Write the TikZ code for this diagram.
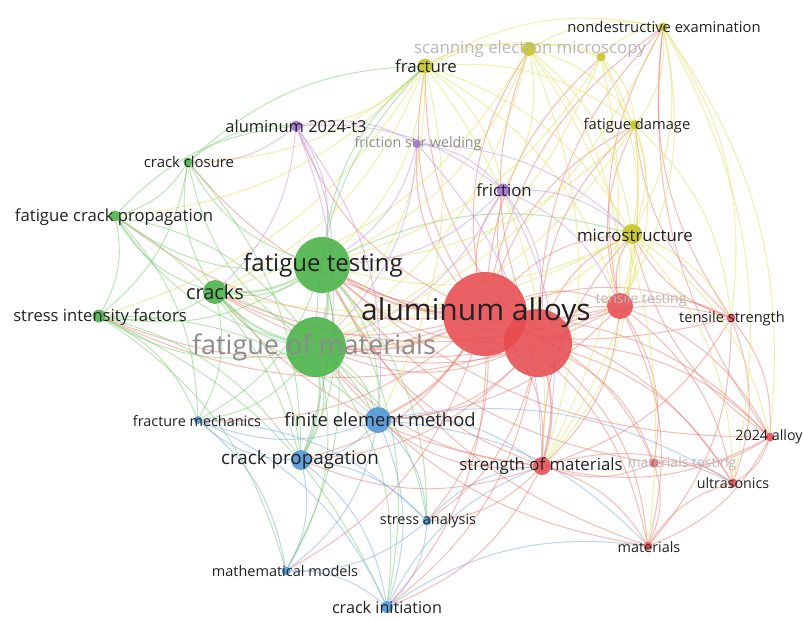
\documentclass[tikz,border=0pt]{standalone}
\usepackage{fontspec}
\setmainfont{Open Sans}
\pgfdeclarelayer{bg}
\pgfsetlayers{bg,main}
\definecolor{cred}{RGB}{230,76,80}
\definecolor{cgreen}{RGB}{72,178,70}
\definecolor{cblue}{RGB}{76,148,215}
\definecolor{cyel}{RGB}{196,196,30}
\definecolor{cpur}{RGB}{158,108,210}
\definecolor{ltxt}{RGB}{34,34,34}
\definecolor{ered}{RGB}{240,120,110}
\definecolor{egreen}{RGB}{120,205,110}
\definecolor{eblue}{RGB}{120,170,225}
\definecolor{eyel}{RGB}{225,225,90}
\definecolor{epur}{RGB}{190,150,230}
\begin{document}
\begin{tikzpicture}[x=1pt,y=-1pt,
  kw/.style={circle,inner sep=0pt,minimum size=#1,opacity=.88},
  lab/.style={font=\fontsize{#1}{#1}\selectfont,text=ltxt,inner sep=0pt},
  flab/.style={font=\fontsize{#1}{#1}\selectfont,text=black!45,inner sep=0pt},
  elab/.style={font=\fontsize{#1}{#1}\selectfont,text=black!28,inner sep=0pt},
  edge/.style={line width=1pt,opacity=.5,draw=#1},
  bigedge/.style={line width=2.2pt,opacity=.45,draw=#1}]
\useasboundingbox (0,0) rectangle (803,621);
% ---------- nodes ----------
\node[kw=84pt,fill=cred] (aa) at (485,314) {};
\node[kw=68pt,fill=cred] (mp) at (538,343) {};
\node[kw=26pt,fill=cred] (tt) at (620,306) {};
\node[kw=9pt,fill=cred] (ts) at (731,318) {};
\node[kw=9pt,fill=cred] (al24) at (770,437) {};
\node[kw=9pt,fill=cred] (mt) at (654,463) {};
\node[kw=9pt,fill=cred] (us) at (733,483) {};
\node[kw=9pt,fill=cred] (mat) at (648,546) {};
\node[kw=18pt,fill=cred] (som) at (542,466) {};
\node[kw=13pt,fill=cpur] (fr) at (503,190) {};
\node[kw=8pt,fill=cpur] (fsw) at (417,144) {};
\node[kw=11pt,fill=cpur] (a24t3) at (296,126) {};
\node[kw=15pt,fill=cyel] (frac) at (425,66) {};
\node[kw=14pt,fill=cyel] (sem) at (529,49) {};
\node[kw=9pt,fill=cyel] (y2) at (601,57) {};
\node[kw=9pt,fill=cyel] (nde) at (663,27) {};
\node[kw=10pt,fill=cyel] (fd) at (635,125) {};
\node[kw=20pt,fill=cyel] (ms) at (632,234) {};
\node[kw=9pt,fill=cgreen] (cc) at (188,162) {};
\node[kw=11pt,fill=cgreen] (fcp) at (115,216) {};
\node[kw=13pt,fill=cgreen] (sif) at (99,316) {};
\node[kw=24pt,fill=cgreen] (cr) at (215,292) {};
\node[kw=56pt,fill=cgreen] (ft) at (322,265) {};
\node[kw=60pt,fill=cgreen] (fom) at (316,347) {};
\node[kw=8pt,fill=cblue] (fm) at (198,420) {};
\node[kw=26pt,fill=cblue] (fem) at (378,420) {};
\node[kw=20pt,fill=cblue] (cp) at (301,460) {};
\node[kw=9pt,fill=cblue] (sa) at (427,521) {};
\node[kw=9pt,fill=cblue] (mm) at (286,571) {};
\node[kw=12pt,fill=cblue] (ci) at (387,607) {};
% ---------- edges ----------
\begin{pgfonlayer}{bg}
\fill[white] (0,0) rectangle (803,621);
\foreach \a/\b in {aa/tt,aa/ts,aa/al24,aa/mt,aa/us,aa/mat,aa/som,aa/fr,aa/fsw,aa/a24t3,aa/frac,aa/sem,aa/y2,aa/nde,aa/fd,aa/ms,aa/cc,aa/fcp,aa/sif,aa/cr,aa/fm,aa/cp,aa/sa,aa/mm,aa/ci,
  mp/tt,mp/ts,mp/al24,mp/mt,mp/us,mp/mat,mp/ms,mp/fd,mp/frac,mp/ft,mp/fom,mp/fem,mp/cp,mp/sa,mp/ci,mp/sif,mp/cr,mp/fr,mp/nde,mp/sem,
  tt/ts,tt/al24,tt/mt,tt/us,tt/mat,tt/som,tt/ms,tt/fd,tt/nde,tt/ft,tt/fom,tt/fem,tt/cr,
  ts/al24,ts/us,ts/mat,ts/som,ts/ms,ts/nde,ts/fd,ts/ft,
  al24/us,al24/mat,al24/mt,al24/som,al24/ms,al24/nde,al24/ft,
  mt/us,mt/mat,mt/som,mt/ft,som/mat,som/us,som/fem,som/cp,som/sa,som/ci,som/ft,som/fom,som/ms,som/cr,mat/us,mat/fom,mat/ft}
  \draw[edge=ered] (\a) to[bend left=20] (\b);
\foreach \a/\b in {frac/sem,frac/y2,frac/nde,frac/fd,frac/ms,frac/ft,frac/fom,frac/cr,frac/cc,frac/fcp,frac/sif,frac/a24t3,frac/fr,frac/som,frac/fem,frac/tt,
  sem/y2,sem/nde,sem/fd,sem/ms,sem/ft,sem/fom,sem/tt,sem/som,sem/fr,sem/cr,sem/mat,
  y2/nde,y2/fd,y2/ms,y2/ft,y2/fom,y2/tt,y2/som,nde/fd,nde/ms,nde/tt,nde/al24,nde/us,nde/fom,nde/ts,
  fd/ms,fd/ft,fd/fom,fd/tt,fd/ts,fd/som,ms/ft,ms/fom,ms/tt,ms/ts,ms/al24,ms/som,ms/cr,ms/us}
  \draw[edge=eyel] (\a) to[bend left=20] (\b);
\foreach \a/\b in {a24t3/fsw,a24t3/fr,a24t3/ft,a24t3/fom,a24t3/cr,a24t3/cc,a24t3/fem,a24t3/cp,
  fsw/fr,fsw/ft,fsw/fom,fsw/ms,fsw/som,fr/ft,fr/fom,fr/ms,fr/tt,fr/som,fr/mp}
  \draw[edge=epur] (\a) to[bend left=20] (\b);
\foreach \a/\b in {ft/cr,ft/cc,ft/fcp,ft/sif,ft/fem,ft/cp,ft/fm,ft/sa,ft/ci,ft/mm,ft/ms,ft/frac,
  fom/cr,fom/cc,fom/fcp,fom/sif,fom/fem,fom/cp,fom/fm,fom/sa,fom/ci,fom/mm,fom/frac,
  cr/cc,cr/fcp,cr/sif,cr/fem,cr/cp,cr/fm,cc/fcp,cc/sif,cc/a24t3,cc/frac,cc/cp,
  fcp/sif,fcp/cp,fcp/fm,fcp/fom,fcp/a24t3,sif/fm,sif/cp,sif/mm,sif/fem,sif/ci}
  \draw[edge=egreen] (\a) to[bend left=20] (\b);
\foreach \a/\b in {fem/cp,fem/sa,fem/ci,fem/mm,fem/fm,fem/som,fem/mat,fem/us,
  cp/sa,cp/ci,cp/mm,cp/fm,fm/mm,fm/ci,fm/sa,sa/ci,sa/mm,mm/ci,ci/som,ci/mat,sa/som}
  \draw[edge=eblue] (\a) to[bend left=20] (\b);
\foreach \a/\b in {aa/mp,aa/ft,aa/fom,aa/fem,mp/som}
  \draw[bigedge=ered] (\a) to[bend left=14] (\b);
\foreach \a/\b in {ft/fom,ft/cr,fom/cr,fom/cp}
  \draw[bigedge=egreen] (\a) to[bend left=14] (\b);
\end{pgfonlayer}
% ---------- labels ----------
\node[elab=14] (ttL) at (641,300) {tensile testing};
\node[elab=14] (mtL) at (682,464) {materials testing};
\node[elab=16.8] (semL) at (530,49) {scanning electron microscopy};
\node[flab=14.2] (fswL) at (418,144) {friction stir welding};
\node[flab=27] (fomL) at (314,347) {fatigue of materials};
\node[lab=30] (aaL) at (476,313) {aluminum alloys};
\node[lab=14.6] (tsL) at (732,319) {tensile strength};
\node[lab=14.3] (al24L) at (769,437) {2024 alloy};
\node[lab=14.3] (usL) at (733,483) {ultrasonics};
\node[lab=14.4] (matL) at (649,547) {materials};
\node[lab=16.8] (somL) at (541,466) {strength of materials};
\node[lab=16.8] (frL) at (504,190) {friction};
\node[lab=16.5] (a24t3L) at (296,126) {aluminum 2024-t3};
\node[lab=16.8] (fracL) at (426,66) {fracture};
\node[lab=14.8] (ndeL) at (664,27) {nondestructive examination};
\node[lab=14.7] (fdL) at (637,126) {fatigue damage};
\node[lab=16.8] (msL) at (635,235) {microstructure};
\node[lab=14.9] (ccL) at (189,162) {crack closure};
\node[lab=16.7] (fcpL) at (114,217) {fatigue crack propagation};
\node[lab=16.6] (sifL) at (100,317) {stress intensity factors};
\node[lab=20] (crL) at (215,292) {cracks};
\node[lab=24] (ftL) at (323,265) {fatigue testing};
\node[lab=14.4] (fmL) at (197,421) {fracture mechanics};
\node[lab=18.4] (femL) at (380,420) {finite element method};
\node[lab=18.8] (cpL) at (300,460) {crack propagation};
\node[lab=14.4] (saL) at (428,521) {stress analysis};
\node[lab=14.5] (mmL) at (285,571) {mathematical models};
\node[lab=16.2] (ciL) at (387,607) {crack initiation};
\end{tikzpicture}
\end{document}
